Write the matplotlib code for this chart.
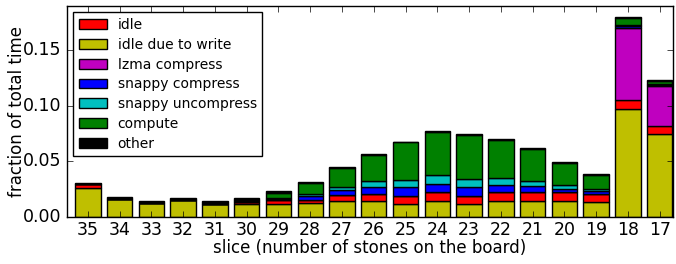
import numpy as np
import matplotlib
matplotlib.use("Agg")
import matplotlib.pyplot as plt

slices = [35, 34, 33, 32, 31, 30, 29, 28, 27, 26, 25, 24, 23, 22, 21, 20, 19, 18, 17]

idle_write = [0.0264, 0.0160, 0.0123, 0.0156, 0.0114, 0.0114, 0.0120, 0.0126, 0.0140, 0.0143,
              0.0119, 0.0140, 0.0113, 0.0144, 0.0144, 0.0140, 0.0134, 0.0972, 0.0749]
idle = [0.0030, 0.0, 0.0, 0.0, 0.0, 0.0018, 0.0030, 0.0027, 0.0054, 0.0067,
        0.0072, 0.0086, 0.0079, 0.0081, 0.0081, 0.0081, 0.0074, 0.0081, 0.0068]
lzma = [0.0, 0.0, 0.0, 0.0, 0.0, 0.0, 0.0, 0.0, 0.0, 0.0,
        0.0, 0.0, 0.0, 0.0, 0.0, 0.0, 0.0, 0.0650, 0.0365]
snappy_comp = [0.0, 0.0, 0.0, 0.0, 0.0, 0.0005, 0.0012, 0.0036, 0.0045, 0.0062,
               0.0078, 0.0074, 0.0081, 0.0065, 0.0056, 0.0029, 0.0023, 0.0015, 0.0008]
snappy_uncomp = [0.0, 0.0, 0.0, 0.0, 0.0, 0.0003, 0.0008, 0.0021, 0.0032, 0.0049,
                 0.0060, 0.0079, 0.0071, 0.0063, 0.0047, 0.0041, 0.0018, 0.0015, 0.0008]
compute = [0.0, 0.0, 0.0, 0.0, 0.0, 0.0012, 0.0050, 0.0094, 0.0167, 0.0235,
           0.0343, 0.0388, 0.0395, 0.0341, 0.0284, 0.0194, 0.0131, 0.0058, 0.0027]
other = [0.0012, 0.0017, 0.0018, 0.0018, 0.0030, 0.0022, 0.0012, 0.0012, 0.0009, 0.0011,
         0.0008, 0.0006, 0.0006, 0.0006, 0.0008, 0.0006, 0.0006, 0.0009, 0.0009]

plt.style.use("classic")

fig = plt.figure(figsize=(6.76, 2.64), dpi=100)
ax = fig.add_axes([0.099, 0.178, 0.897, 0.799])

x = np.arange(len(slices))
series = [
    ("idle due to write", idle_write, "y"),
    ("idle", idle, "r"),
    ("lzma compress", lzma, "m"),
    ("snappy compress", snappy_comp, "b"),
    ("snappy uncompress", snappy_uncomp, "c"),
    ("compute", compute, "g"),
    ("other", other, "k"),
]

bottom = np.zeros(len(slices))
handles = {}
for label, vals, col in series:
    vals = np.array(vals)
    bars = ax.bar(x, vals, 0.8, bottom=bottom, color=col, edgecolor="k",
                  linewidth=1, align="center", label=label)
    handles[label] = bars
    bottom += vals

# legend lists idle first, unlike the stacking order
order = ["idle", "idle due to write", "lzma compress", "snappy compress",
         "snappy uncompress", "compute", "other"]
ax.legend([handles[k] for k in order], order, loc="upper left",
          fontsize=10, borderaxespad=0.45, labelspacing=0.42, borderpad=0.4)

ax.set_xlim(-0.66, 18.43)
ax.set_ylim(0, 0.19)
ax.set_yticks([0.0, 0.05, 0.10, 0.15])
ax.set_xticks(x)
ax.set_xticklabels([str(s) for s in slices])
ax.tick_params(labelsize=12.5)
ax.tick_params(axis="x", pad=3)
ax.set_xlabel("slice (number of stones on the board)", fontsize=12, labelpad=0)
ax.set_ylabel("fraction of total time", fontsize=12, labelpad=-2)

fig.savefig("out.png", dpi=100)
